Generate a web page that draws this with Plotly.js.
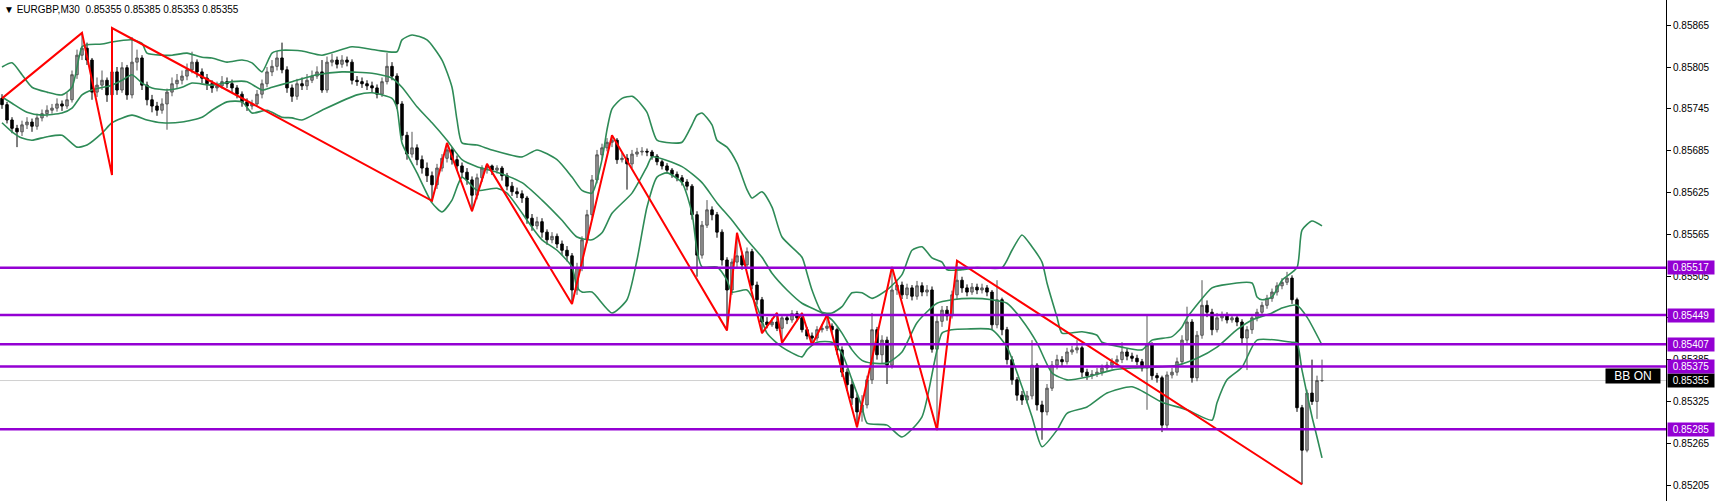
<!DOCTYPE html>
<html><head><meta charset="utf-8">
<script src="https://cdn.plot.ly/plotly-3.0.1.min.js"></script>
<style>html,body{margin:0;padding:0;background:#fff;overflow:hidden}#chart{width:1717px;height:501px}</style>
</head><body><div id="chart"></div>
<script>
// Prices are stored in points (0.00001) above 0.85000
const BASE = 0.85, POINT = 0.00001;
const symbolTitle = "\u25BC EURGBP,M30\u00A0\u00A00.85355 0.85385 0.85353 0.85355";

const openPts = [
760,751,729,717,712,722,726,720,732,738,
743,746,752,749,758,794,822,832,815,769,
779,786,765,798,772,804,765,812,818,779,
758,749,743,752,769,781,786,792,801,812,
798,789,781,775,778,784,781,775,766,755,
749,752,766,781,798,806,818,801,775,763,
781,778,786,792,798,772,812,815,809,815,
812,786,784,781,778,775,766,784,806,792,
752,707,680,689,672,660,649,636,660,674,
686,672,663,654,643,621,646,660,663,657,
660,649,634,626,623,617,588,577,583,568,
557,562,551,542,534,485,517,557,593,643,
679,689,697,700,672,674,666,680,683,684,
683,677,669,663,657,651,646,640,634,593,
535,578,600,593,568,528,485,525,534,521,
540,492,471,439,435,439,430,445,442,451,
445,428,419,416,428,430,433,428,399,367,
349,330,310,320,356,428,392,413,377,485,
492,478,488,476,491,482,485,400,440,456,
448,478,499,488,482,489,485,488,482,435,
471,428,385,356,334,327,333,377,320,310,
344,377,385,382,396,399,402,367,362,364,
367,373,377,382,385,396,390,387,382,373,
406,362,359,291,363,367,382,413,439,359,
420,463,453,428,445,448,442,445,439,416,
428,445,453,463,473,482,491,496,502,471,
316,255,337,325,355];

const highPts = [
766,755,733,722,728,733,731,738,744,750,
752,760,757,768,800,830,854,840,818,790,
800,790,861,805,812,808,848,830,822,784,
765,755,760,774,790,795,800,810,827,816,
803,795,786,784,792,790,787,779,770,760,
758,772,787,805,815,828,840,806,780,788,
790,795,800,806,815,820,824,820,822,820,
816,792,790,786,784,780,790,825,812,796,
756,712,712,694,678,668,655,666,680,696,
690,678,668,660,648,652,664,666,665,664,
663,653,640,632,628,620,594,590,588,572,
568,566,556,548,538,524,562,600,650,686,
695,703,707,703,682,680,686,689,690,688,
686,680,672,667,660,655,650,644,637,598,
584,614,605,597,572,532,530,567,540,546,
544,497,475,446,445,452,450,450,456,455,
452,432,424,433,436,449,437,431,404,372,
356,336,334,362,452,432,420,418,518,500,
497,494,492,498,496,492,490,450,462,462,
484,527,504,493,495,494,494,492,485,499,
474,432,390,360,340,340,413,380,326,350,
383,392,390,402,405,413,405,372,370,373,
378,382,387,391,410,401,395,392,386,449,
410,366,362,368,373,388,420,461,443,426,
499,470,458,452,454,453,450,449,443,433,
450,458,468,478,487,496,502,511,506,474,
320,342,385,362,385];

const lowPts = [
745,724,710,690,706,716,712,715,727,733,
738,741,742,745,754,788,815,808,758,762,
772,755,650,765,768,758,760,800,772,750,
740,735,738,715,763,775,780,786,796,790,
782,772,768,770,774,775,769,760,748,742,
744,748,760,776,792,800,796,768,755,758,
772,772,782,788,768,768,806,803,804,806,
780,778,775,772,768,760,762,780,786,745,
700,672,675,664,652,640,613,630,655,668,
665,656,646,636,598,615,640,652,650,652,
642,628,620,617,610,580,570,572,560,550,
552,545,535,526,465,478,512,552,588,638,
672,684,690,666,668,629,660,676,678,677,
672,664,658,652,646,641,635,628,586,504,
530,574,585,560,520,427,478,518,514,516,
486,464,423,430,432,426,409,436,438,440,
424,414,406,412,424,426,422,392,360,340,
320,288,296,315,350,385,380,350,372,478,
472,472,470,471,476,476,395,284,432,441,
444,472,481,476,478,479,480,476,428,430,
420,378,349,326,320,322,328,312,270,305,
340,371,376,378,392,394,360,356,357,360,
362,368,372,378,380,384,382,377,368,313,
356,352,281,286,358,362,378,408,352,354,
415,446,420,424,440,437,438,433,408,370,
422,440,448,458,468,477,486,492,465,310,
206,252,320,300,353];

const closePts = [
751,729,717,712,722,726,720,732,738,743,
746,752,749,758,794,822,832,815,769,779,
786,765,798,772,804,765,812,818,779,758,
749,743,752,769,781,786,792,801,812,798,
789,781,775,778,784,781,775,766,755,749,
752,766,781,798,806,818,801,775,763,781,
778,786,792,798,772,812,815,809,815,812,
786,784,781,778,775,766,784,806,792,752,
707,680,689,672,660,649,636,660,674,686,
672,663,654,643,621,646,660,663,657,660,
649,634,626,623,617,588,577,583,568,557,
562,551,542,534,485,517,557,593,643,679,
689,697,700,672,674,666,680,683,684,683,
677,669,663,657,651,646,640,634,593,535,
578,600,593,568,528,485,525,534,521,540,
492,471,439,435,439,430,445,442,451,445,
428,419,416,428,430,433,428,399,367,349,
330,310,320,356,428,392,413,377,485,492,
478,488,476,491,482,485,400,440,456,448,
478,499,488,482,489,485,488,482,435,471,
428,385,356,334,327,333,377,320,310,344,
377,385,382,396,399,402,367,362,364,367,
373,377,382,385,396,390,387,382,373,406,
362,359,291,363,367,382,413,439,359,420,
463,453,428,445,448,442,445,439,416,428,
445,453,463,473,482,491,496,502,471,316,
255,337,325,355,355];

// Bollinger bands (bar index, price points)
const upperBar = [0,2,4,6,9,12,14,16,17,20,22,26,28,29,32,34,37,40,42,45,48,50,52,54,56,60,64,70,75,79,80,82,85,88,90,91,92,95,98,104,107,111,114,116,118,120,121,122,124,126,127,129,131,134,136,138,139,140,142,143,145,147,149,150,152,154,156,160,161,162,164,166,168,170,172,174,177,180,182,184,186,188,189,192,195,200,202,204,206,208,209,211,212,216,219,220,224,228,230,234,236,237,242,244,250,251,252,254,256,259,260,262,264];
const upperPts = [805,811,794,776,769,765,776,834,837,838,841,844,839,825,822,822,825,819,818,812,815,811,798,825,829,828,822,834,829,827,844,851,844,815,776,729,696,693,686,676,686,672,647,628,624,672,715,745,760,763,758,740,700,696,697,722,736,739,722,700,690,667,629,617,626,604,561,532,509,485,453,452,461,481,481,473,485,507,542,547,531,525,514,514,517,517,542,564,547,525,495,446,423,425,420,410,403,399,413,418,432,445,488,492,495,475,471,475,499,517,571,584,577];
const midBar = [0,2,5,8,12,14,16,18,22,24,26,28,30,33,36,38,42,46,49,52,54,58,63,68,74,78,80,83,86,89,92,95,99,104,108,112,115,118,120,122,126,129,130,136,140,143,146,149,152,154,157,160,164,166,168,170,172,174,177,180,183,187,190,194,198,201,204,207,210,213,217,222,226,230,235,239,243,247,250,254,256,259,261,264];
const midPts = [762,753,740,736,739,746,765,772,779,786,794,782,775,772,776,782,779,784,784,772,776,784,794,798,796,789,776,748,725,700,672,662,654,639,614,585,561,557,567,595,624,662,676,662,639,610,585,557,532,509,485,466,452,442,423,399,384,380,380,396,438,466,471,473,471,466,442,409,366,356,360,370,373,374,377,387,403,428,442,452,459,463,446,406];
const lowerBar = [0,2,4,6,9,12,15,17,20,22,26,29,32,36,40,42,45,48,50,53,56,58,60,64,71,74,78,79,80,83,86,88,90,92,95,99,101,106,108,111,114,115,116,118,122,125,127,129,131,133,136,138,139,140,143,145,146,149,151,153,156,160,161,163,166,168,170,172,173,177,180,184,188,190,193,198,201,204,206,208,211,213,217,221,226,232,237,242,243,245,248,251,258,259,260,262,263,264];
const lowerPts = [725,712,703,700,705,707,690,693,710,725,736,729,725,726,733,743,755,755,739,743,733,732,729,743,765,768,760,746,696,653,610,597,614,647,628,631,624,575,557,542,518,489,482,482,452,471,528,604,647,653,639,595,542,518,518,499,482,485,461,423,403,389,399,410,410,394,356,317,294,291,274,303,423,428,429,428,403,346,303,260,284,308,317,337,346,324,313,298,323,356,374,413,410,409,370,303,274,244];

// ZigZag pivots
const zigzagBar = [0,16,22,22,86,89,94,97,114,122,145,147,152,155,156,160,162,165,171,178,187,191,260];
const zigzagPts = [760,854,650,861,613,696,598,666,465,707,427,567,423,452,409,452,406,449,288,518,284,527,206];

// Horizontal levels and current price
const levelPrices = [0.85517, 0.85449, 0.85407, 0.85375, 0.85285];
const levelLabels = ["0.85517", "0.85449", "0.85407", "0.85375", "0.85285"];
const currentPrice = 0.85355;
const currentLabel = "0.85355";

// Price scale ticks
const tickPrices = [0.85205,0.85265,0.85325,0.85385,0.85445,0.85505,0.85565,0.85625,0.85685,0.85745,0.85805,0.85865];
const tickLabels = ["0.85205","0.85265","0.85325","0.85385","0.85445","0.85505","0.85565","0.85625","0.85685","0.85745","0.85805","0.85865"];

const toPrice = a => a.map(v => +(BASE + v * POINT).toFixed(5));
const barIndex = closePts.map((_, i) => i);

const FONT = 'Liberation Sans, Arial, sans-serif';
const PURPLE = '#9400D3';
const GREEN = '#2e8b57';

const traces = [
  {
    type: 'candlestick', x: barIndex,
    open: toPrice(openPts), high: toPrice(highPts), low: toPrice(lowPts), close: toPrice(closePts),
    increasing: {line: {color: '#555555', width: 1}, fillcolor: '#9a9a9a'},
    decreasing: {line: {color: '#000000', width: 1}, fillcolor: '#000000'},
    whiskerwidth: 0, hoverinfo: 'skip', showlegend: false
  },
  {type: 'scatter', mode: 'lines', x: upperBar, y: toPrice(upperPts), line: {color: GREEN, width: 1.6, shape: 'spline', smoothing: 0.6}, hoverinfo: 'skip'},
  {type: 'scatter', mode: 'lines', x: midBar, y: toPrice(midPts), line: {color: GREEN, width: 1.6, shape: 'spline', smoothing: 0.6}, hoverinfo: 'skip'},
  {type: 'scatter', mode: 'lines', x: lowerBar, y: toPrice(lowerPts), line: {color: GREEN, width: 1.6, shape: 'spline', smoothing: 0.6}, hoverinfo: 'skip'},
  {type: 'scatter', mode: 'lines', x: zigzagBar, y: toPrice(zigzagPts), line: {color: '#ff0000', width: 2}, hoverinfo: 'skip'}
];

const shapes = [
  {type: 'line', xref: 'paper', x0: 0, x1: 1, yref: 'y', y0: currentPrice, y1: currentPrice, line: {color: '#d0d0d0', width: 1}, layer: 'below'}
].concat(levelPrices.map(p => ({
  type: 'line', xref: 'paper', x0: 0, x1: 1, yref: 'y', y0: p, y1: p, line: {color: PURPLE, width: 2.5}
})));

const annotations = [
  {xref: 'paper', yref: 'paper', x: 0, y: 1, xanchor: 'left', yanchor: 'top', xshift: 2, yshift: -2,
   text: symbolTitle, showarrow: false, font: {family: FONT, size: 10, color: '#000'}},
  {xref: 'paper', yref: 'y', x: 1, y: 0.85362, xanchor: 'right', xshift: -5, text: 'BB ON', showarrow: false,
   bgcolor: '#000', width: 52, height: 12, font: {family: FONT, size: 12, color: '#fff'}},
  {xref: 'paper', yref: 'y', x: 1, y: currentPrice, xanchor: 'left', xshift: 1, text: currentLabel, showarrow: false,
   bgcolor: '#000', width: 44, height: 11, font: {family: FONT, size: 10, color: '#fff'}}
].concat(levelPrices.map((p, k) => ({
  xref: 'paper', yref: 'y', x: 1, y: p, xanchor: 'left', xshift: 1, text: levelLabels[k], showarrow: false,
  bgcolor: PURPLE, width: 44, height: 11, font: {family: FONT, size: 10, color: '#fff'}
})));

const layout = {
  width: 1717, height: 501,
  margin: {l: 0, r: 51, t: 0, b: 0, pad: 0},
  paper_bgcolor: '#fff', plot_bgcolor: '#fff',
  showlegend: false,
  xaxis: {range: [-0.4, 332.8], showgrid: false, zeroline: false, showticklabels: false, ticks: '',
          rangeslider: {visible: false}, side: 'top', showline: true, linecolor: '#909090', linewidth: 1, fixedrange: true},
  yaxis: {side: 'right', range: [0.851821, 0.859012], tickvals: tickPrices, ticktext: tickLabels,
          ticks: 'outside', ticklen: 4, tickcolor: '#000', showline: true, linecolor: '#000', linewidth: 1,
          showgrid: false, zeroline: false, tickfont: {family: FONT, size: 10, color: '#000'}, fixedrange: true},
  shapes: shapes,
  annotations: annotations
};

Plotly.newPlot('chart', traces, layout, {staticPlot: true, displayModeBar: false});
</script>
</body></html>
